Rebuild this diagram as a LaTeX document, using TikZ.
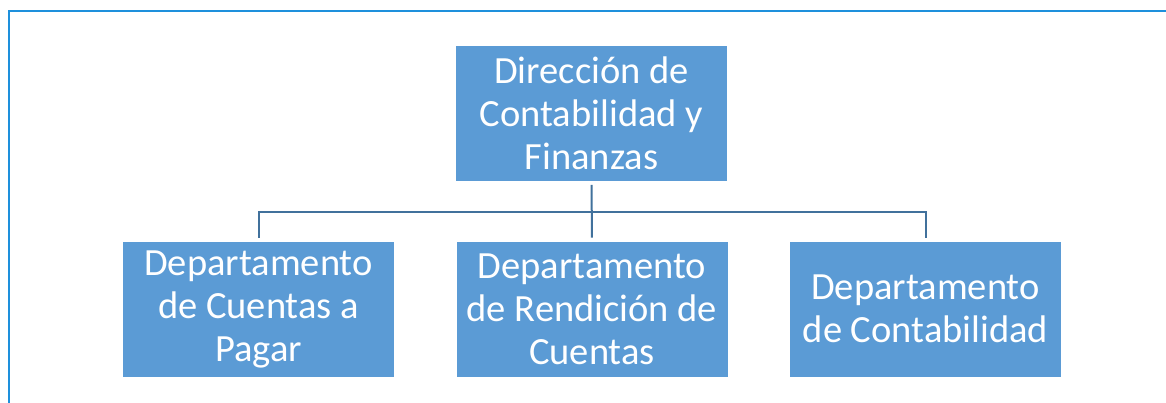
\documentclass[tikz,border=0pt]{standalone}
\usepackage{fontspec}
\setmainfont{Carlito}
\definecolor{boxblue}{HTML}{5B9BD5}
\definecolor{linkblue}{HTML}{41719C}
\definecolor{framblue}{HTML}{1E90DC}
\tikzset{unidad/.style={fill=boxblue, draw=white, line width=0.6pt, text=white, minimum width=272pt, minimum height=136pt, align=center, inner sep=0pt, font=\fontsize{38.5}{43}\selectfont},
	enlace/.style={draw=linkblue, line width=2pt, shorten <=3pt, shorten >=3pt}}
\begin{document}
\begin{tikzpicture}[x=1pt,y=-1pt]
	\useasboundingbox (0,0) rectangle (1166,403);
	\draw [framblue, line width=2pt] (9,403) -- (9,11) -- (1166,11);
	\node [unidad] (dir) at (591.5,113.5) {Dirección de\\Contabilidad y\\Finanzas};
	\node [unidad] (pagar) at (258.5,309) {Departamento\\de Cuentas a\\Pagar};
	\node [unidad] (rendicion) at (592,309) {Departamento\\de Rendición de\\Cuentas};
	\node [unidad] (conta) at (925.5,309) {Departamento\\de Contabilidad};
	\coordinate (bus) at (591.5,212);
	\draw [enlace] (dir.south) -- (rendicion.north);
	\draw [enlace] (pagar.north) |- (bus) -| (conta.north);
\end{tikzpicture}
\end{document}
